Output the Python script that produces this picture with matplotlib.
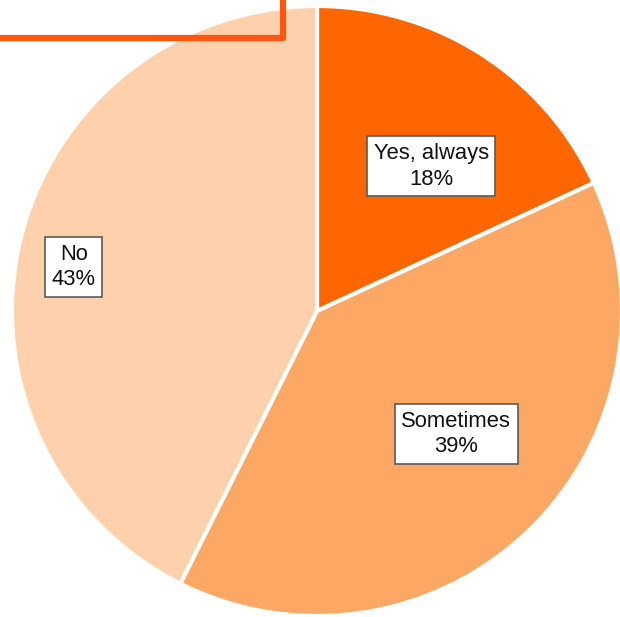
import matplotlib
matplotlib.use("Agg")
import matplotlib.pyplot as plt
from matplotlib.lines import Line2D

# Data (shares; labels show rounded values)
categories = ["Yes, always", "Sometimes", "No"]
shares = [18.1, 39.3, 42.6]
colors = ["#FF6600", "#FDA765", "#FED0AC"]
# label box centres (pie radius = 1)
label_pos = [(0.374, 0.475), (0.456, -0.403), (-0.797, 0.144)]

plt.rcParams["font.family"] = ["Liberation Sans", "DejaVu Sans"]

fig = plt.figure(figsize=(6.2, 6.17), dpi=100)
W, H = 620, 617
cx, cy, r = 317, 311, 305
ax = fig.add_axes([(cx - r) / W, (H - cy - r) / H, 2 * r / W, 2 * r / H])

ax.pie(shares, colors=colors, startangle=90, counterclock=False,
       wedgeprops=dict(edgecolor="white", linewidth=3))
ax.set_xlim(-1, 1)
ax.set_ylim(-1, 1)
ax.set_aspect("equal")
ax.axis("off")

for cat, val, (x, y) in zip(categories, shares, label_pos):
    ax.text(x, y, f"{cat}\n{round(val)}%", ha="center", va="center",
            fontsize=15.8, color="#111111", linespacing=1.3,
            bbox=dict(boxstyle="square,pad=0.3", facecolor="white",
                      edgecolor="#5a5a5a", linewidth=1.2))

# partly visible title frame at the top left
px = [-10 / W, 283 / W, 283 / W]
py = [1 - 38 / H, 1 - 38 / H, 1 + 10 / H]
fig.add_artist(Line2D(px, py, transform=fig.transFigure, color="#FF560D",
                      linewidth=4.5, solid_joinstyle="round"))

fig.savefig("out.png", dpi=100)
